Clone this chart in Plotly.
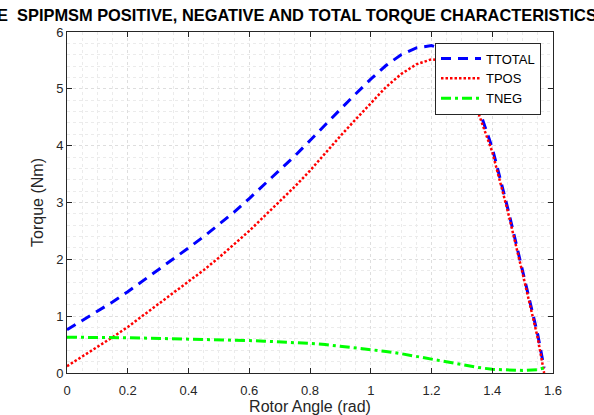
import plotly.graph_objects as go

# Rotor angle samples (rad)
theta = [0, 0.05, 0.1, 0.15, 0.2, 0.25, 0.3, 0.35, 0.4, 0.45, 0.5, 0.55, 0.6, 0.65,
         0.7, 0.75, 0.8, 0.85, 0.9, 0.95, 1.0, 1.05, 1.1, 1.15, 1.2, 1.25, 1.3,
         1.35, 1.4, 1.45, 1.5, 1.55, 1.5708]

t_total = [0.76, 0.92, 1.08, 1.25, 1.43, 1.62, 1.81, 2.01, 2.20, 2.40, 2.62, 2.83, 3.07, 3.32,
           3.57, 3.82, 4.09, 4.37, 4.64, 4.91, 5.17, 5.41, 5.60, 5.72, 5.76, 5.68, 5.35,
           4.74, 3.96, 2.92, 1.80, 0.67, 0.09]

t_pos = [0.12, 0.29, 0.45, 0.63, 0.81, 1.01, 1.21, 1.41, 1.60, 1.81, 2.03, 2.26, 2.50, 2.76,
         3.02, 3.28, 3.56, 3.87, 4.17, 4.46, 4.75, 5.03, 5.26, 5.43, 5.52, 5.49, 5.21,
         4.64, 3.89, 2.87, 1.75, 0.61, 0.0]

t_neg = [0.63, 0.63, 0.63, 0.625, 0.62, 0.615, 0.61, 0.605, 0.60, 0.59, 0.585, 0.575, 0.57, 0.56,
         0.55, 0.535, 0.52, 0.50, 0.47, 0.45, 0.42, 0.38, 0.34, 0.29, 0.24, 0.19, 0.14,
         0.10, 0.065, 0.05, 0.045, 0.06, 0.09]

x_ticks = [0, 0.2, 0.4, 0.6, 0.8, 1.0, 1.2, 1.4, 1.6]
x_tick_labels = ["0", "0.2", "0.4", "0.6", "0.8", "1", "1.2", "1.4", "1.6"]
y_ticks = [0, 1, 2, 3, 4, 5, 6]

title_text = "E  SPIPMSM POSITIVE, NEGATIVE AND TOTAL TORQUE CHARACTERISTICS"

fig = go.Figure()
fig.add_trace(go.Scatter(x=theta, y=t_total, mode="lines", name="TTOTAL",
                         line=dict(color="#0000FF", width=3, dash="10px,7px")))
fig.add_trace(go.Scatter(x=theta, y=t_pos, mode="lines", name="TPOS",
                         line=dict(color="#FF0000", width=2.5, dash="2.5px,2px")))
fig.add_trace(go.Scatter(x=theta, y=t_neg, mode="lines", name="TNEG",
                         line=dict(color="#00FF00", width=3, dash="10px,4px,3px,4px")))

W, H = 594, 415
L, R, T, B = 67, 41, 32, 42
pw = W - L - R

def px_to_paper_x(px):
    return (px - L) / pw

axis_common = dict(
    showline=True, linecolor="#262626", linewidth=1, mirror="ticks",
    ticks="inside", ticklen=5, tickcolor="#262626", tickwidth=1,
    showgrid=True, gridcolor="#dedede", griddash="dot", gridwidth=1,
    zeroline=False, automargin=False,
    tickfont=dict(family="Liberation Sans, Arial", size=13, color="#262626"),
)

fig.update_layout(
    width=W, height=H,
    margin=dict(l=L, r=R, t=T, b=B, autoexpand=False),
    paper_bgcolor="white", plot_bgcolor="white",
    font=dict(family="Liberation Sans, Arial", color="#262626"),
    xaxis=dict(range=[0, 1.6], tickvals=x_ticks, ticktext=x_tick_labels, ticklabelstandoff=5,
               minor=dict(dtick=0.05, showgrid=True, gridcolor="#ebebeb", griddash="dot", ticks=""),
               title=dict(text="Rotor Angle (rad)", font=dict(size=16, color="#262626"), standoff=3),
               **axis_common),
    yaxis=dict(range=[0, 6], tickvals=y_ticks,
               minor=dict(dtick=0.2, showgrid=True, gridcolor="#ebebeb", griddash="dot", ticks=""),
               title=dict(text="Torque (Nm)", font=dict(size=16, color="#262626"), standoff=8),
               **axis_common),
    legend=dict(x=px_to_paper_x(541), y=(H - B - 42.5) / (H - T - B), xanchor="right", yanchor="top",
                bgcolor="white", bordercolor="#262626", borderwidth=1,
                font=dict(family="Liberation Sans, Arial", size=13, color="#000000"),
                itemwidth=40, tracegroupgap=0),
    showlegend=True,
)

fig.add_annotation(text="<b>" + title_text + "</b>", xref="paper", yref="paper",
                   x=px_to_paper_x(-5), y=1 + (T - 15) / (H - T - B), xanchor="left", yanchor="middle",
                   showarrow=False, font=dict(family="Liberation Sans, Arial", size=16.4, color="#000000"))

fig.write_html("out.html")
